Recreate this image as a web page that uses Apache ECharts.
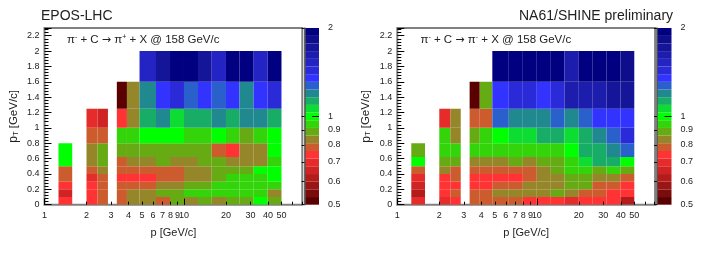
<!DOCTYPE html>
<html><head><meta charset="utf-8">
<style>html,body{margin:0;padding:0;background:#fff}#c{width:706px;height:258px}</style>
<script src="https://cdn.jsdelivr.net/npm/echarts@6/dist/echarts.min.js"></script>
</head><body><div id="c"></div>
<script>
const pBins = [[1.26,1.58],[2,2.4],[2.4,2.85],[3.3,3.9],[3.9,4.8],[4.8,6.3],[6.3,7.94],[7.94,10],[10,12.6],[12.6,15.8],[15.8,20],[20,25],[25,31.6],[31.6,39.8],[39.8,50]];
const ptEdges = [0,0.1,0.2,0.3,0.4,0.5,0.62,0.8,1,1.25,1.6,2];
// ratio per p bin, from the lowest pT bin upward
const eposRatio = [
 [.74,.655,.74,.785,.785,1,1],
 [.74,.74,.74,.697,.785,.835,.835,.785,.697],
 [.785,.785,.785,.785,.835,.886,.886,.785,.655],
 [.785,.785,.785,.74,.785,.785,.886,.94,.74,.515],
 [.835,.835,.785,.74,.785,.835,.886,.94,.835,.835],
 [.835,.835,.785,.74,.785,.835,.886,1,1.13,1.2,1.525],
 [.785,.886,.835,.785,.785,.886,.886,1,1.2,1.35,1.72],
 [.886,.886,.835,.785,.785,.835,.886,1,1.06,1.435,1.94],
 [.835,.94,.886,.835,.835,.835,.886,.94,1.13,1.27,1.94],
 [.886,.94,.886,.835,.835,.886,.886,.94,1.13,1.35,1.72],
 [.835,.94,.94,.886,.886,.886,.785,1,1.2,1.27,1.525],
 [.886,.94,.94,.94,.886,.835,.74,.94,1.13,1.35,1.94],
 [.886,.94,.94,.94,.886,.835,.835,.886,1.2,1.2,1.94],
 [1,.94,.94,.94,1,.835,.835,.94,1.2,1.35,1.525],
 [.886,.835,.94,1,1,.94,1,1,1.13,1.435,1.94]
];
const na61Ratio = [
 [.697,.617,.655,.697,.785,1,.886],
 [.697,.74,.74,.74,.835,.886,.94,.94,.697],
 [.74,.785,.74,.785,.785,.886,.94,.835,.835],
 [.785,.785,.74,.74,.785,.835,.94,.886,.785,.515],
 [.785,.785,.74,.74,.785,.835,.94,.94,.785,.886],
 [.785,.835,.785,.74,.785,.835,.94,1,1.27,1.35,1.94],
 [.785,.835,.785,.74,.785,.886,.94,1.06,1.2,1.435,1.94],
 [.74,.835,.835,.785,.785,.835,.94,1.06,1.2,1.435,1.94],
 [.74,.835,.835,.835,.835,.886,.94,1.13,1.2,1.35,1.94],
 [.74,.886,.835,.835,.886,.886,.94,1.13,1.27,1.435,1.94],
 [.697,.835,.886,.886,.94,.94,1,1.06,1.2,1.62,1.62],
 [.74,.785,.886,.886,.94,1.06,1.13,1.13,1.27,1.62,1.94],
 [.74,.785,.785,.835,.886,1.13,1.13,1.2,1.35,1.62,1.94],
 [.74,.74,.785,.835,.94,1.13,1.2,1.27,1.35,1.72,1.94],
 [.617,.74,.74,.785,.886,1,1.27,1.435,1.35,1.72,1.83]
];
const zEdges = [.5,.531,.564,.599,.636,.676,.718,.762,.81,.86,.913,.97,1.03,1.094,1.162,1.234,1.311,1.392,1.479,1.57,1.668,1.772,1.88,2];
const zColors = ['#5a0000','#7a0c0c','#9a1515','#b41c1c','#d02424','#e62b2b','#ff3333','#cc5c2e','#95862a','#66aa14','#33d40a','#00ff00','#0ddc33','#18ad66','#20888f','#2a60cc','#3333ff','#2a2ad8','#2424c4','#1c1cad','#15159a','#0e0e8c','#000080'];
const xTicks = [1,2,3,4,5,6,7,8,9,10,20,30,40,50,60,70];
const xLabels = [1,2,3,4,5,6,7,8,9,10,20,30,40,50];
const xMajor = [1,10];
const zLabels = [.5,.6,.7,.8,.9,1,2];
const zMajor = [1];

function colorOf(v){for(let i=0;i<zColors.length;i++){if(v<zEdges[i+1])return zColors[i];}return zColors[zColors.length-1];}
function rectItem(params,api){
  const a=api.coord([api.value(0),api.value(2)]),b=api.coord([api.value(1),api.value(3)]);
  return {type:'rect',shape:{x:a[0],y:b[1],width:b[0]-a[0],height:a[1]-b[1]},style:{fill:api.value(4)}};
}
function cells(ratio){
  const out=[];
  ratio.forEach((col,i)=>col.forEach((v,j)=>out.push([pBins[i][0],pBins[i][1],ptEdges[j],ptEdges[j+1],colorOf(v)])));
  return out;
}
const barCells=zColors.map((c,i)=>[0,1,zEdges[i],zEdges[i+1],c]);
const TXT='#222',FONT='Liberation Sans',FRAME='#808080';

const grids=[],xAxes=[],yAxes=[],series=[],titles=[];
function addPanel(px,bx,ratio){
  const g=grids.length;
  grids.push({left:px,top:28,width:257.8,height:176.7,show:true,borderColor:FRAME,borderWidth:2,backgroundColor:'#fff',z:0});
  grids.push({left:bx,top:28,width:14.5,height:176.7,show:false});
  const xi=xAxes.length,yi=yAxes.length;
  xAxes.push({gridIndex:g,type:'log',logBase:10,min:1,max:70.5,z:6,position:'bottom',
    name:'p [GeV/c]',nameLocation:'middle',nameGap:23,nameTextStyle:{fontFamily:FONT,fontSize:11,color:TXT},
    axisLine:{show:false},splitLine:{show:false},minorTick:{show:false},minorSplitLine:{show:false},
    axisTick:{show:true,inside:true,length:3,customValues:xTicks,lineStyle:{color:'#000',width:1}},
    axisLabel:{customValues:xLabels,margin:6,fontFamily:FONT,fontSize:9,color:TXT,hideOverlap:false,showMinLabel:true,showMaxLabel:true,formatter:v=>String(Math.round(v))}});
  xAxes.push({gridIndex:g,type:'log',logBase:10,min:1,max:70.5,z:6,position:'bottom',axisLine:{show:false},splitLine:{show:false},
    axisTick:{show:true,inside:true,length:6,customValues:xMajor,lineStyle:{color:'#000',width:1}},axisLabel:{show:false}});
  yAxes.push({gridIndex:g,type:'value',min:0,max:2.3,interval:.2,z:6,
    name:'{p|p}{t|T} [GeV/c]',nameLocation:'middle',nameGap:25,nameRotate:90,
    nameTextStyle:{fontFamily:FONT,fontSize:11.5,color:TXT,rich:{p:{fontFamily:FONT,fontSize:12,color:TXT},t:{fontFamily:FONT,fontSize:7.5,color:TXT,verticalAlign:'bottom',padding:[4,0,0,0]}}},
    axisLine:{show:false},splitLine:{show:false},
    axisTick:{show:true,inside:true,length:7,lineStyle:{color:'#000',width:1}},
    minorTick:{show:true,splitNumber:5,length:4,lineStyle:{color:'#000',width:1}},
    axisLabel:{margin:5,fontFamily:FONT,fontSize:9,color:TXT,showMaxLabel:false,formatter:v=>(v>2.25?'':String(+v.toFixed(1)))}});
  xAxes.push({gridIndex:g+1,type:'value',min:0,max:1,show:false});
  yAxes.push({gridIndex:g+1,type:'log',logBase:2,min:.5,max:2,position:'right',z:6,
    axisLine:{show:true,lineStyle:{color:'#555',width:1.5}},splitLine:{show:false},
    minorTick:{show:false},minorSplitLine:{show:false},
    axisTick:{show:true,inside:true,length:3,customValues:zLabels,lineStyle:{color:'#111',width:1}},
    axisLabel:{customValues:zLabels,margin:9,fontFamily:FONT,fontSize:9,color:TXT,showMinLabel:true,showMaxLabel:true,hideOverlap:false,formatter:v=>String(+(+v).toFixed(1))}});
  yAxes.push({gridIndex:g+1,type:'log',logBase:2,min:.5,max:2,position:'right',z:6,
    axisLine:{show:false},splitLine:{show:false},minorTick:{show:false},minorSplitLine:{show:false},
    axisTick:{show:true,inside:true,length:7,customValues:zMajor,lineStyle:{color:'#111',width:1}},axisLabel:{show:false}});
  series.push({type:'custom',coordinateSystem:'cartesian2d',xAxisIndex:xi,yAxisIndex:yi,z:2,silent:true,renderItem:rectItem,
    encode:{x:[0,1],y:[2,3]},data:cells(ratio),clip:true});
  series.push({type:'custom',coordinateSystem:'cartesian2d',xAxisIndex:xi+2,yAxisIndex:yi+1,z:2,silent:true,renderItem:rectItem,
    encode:{x:[0,1],y:[2,3]},data:barCells});
}
addPanel(44.5,304.5,eposRatio);
addPanel(397.3,657,na61Ratio);

const sup={fontFamily:FONT,fontSize:7,color:TXT,verticalAlign:'top',padding:[0,0,5,0],lineHeight:8};
const body={fontFamily:FONT,fontSize:11.5,color:TXT};
const arrow={fontFamily:'DejaVu Sans',fontSize:11,color:TXT};
function t(text,left,top,size){return {text,left,top,padding:0,textStyle:{fontFamily:FONT,fontSize:size,fontWeight:'normal',color:TXT,rich:{s:sup,b:body,a:arrow}}};}
titles.push(t('EPOS-LHC',41,9,14));
titles.push(t('NA61/SHINE preliminary',519,9,14));
titles.push(t('{b|π}{s|-}{b| + C }{a|→}{b| π}{s|+}{b| + X @ 158 GeV/c}',67,34,11.5));
titles.push(t('{b|π}{s|-}{b| + C }{a|→}{b| π}{s|-}{b| + X @ 158 GeV/c}',420.5,34,11.5));

const chart=echarts.init(document.getElementById('c'),null,{renderer:'canvas'});
chart.setOption({animation:false,backgroundColor:'#fff',title:titles,grid:grids,xAxis:xAxes,yAxis:yAxes,series:series});
</script></body></html>
